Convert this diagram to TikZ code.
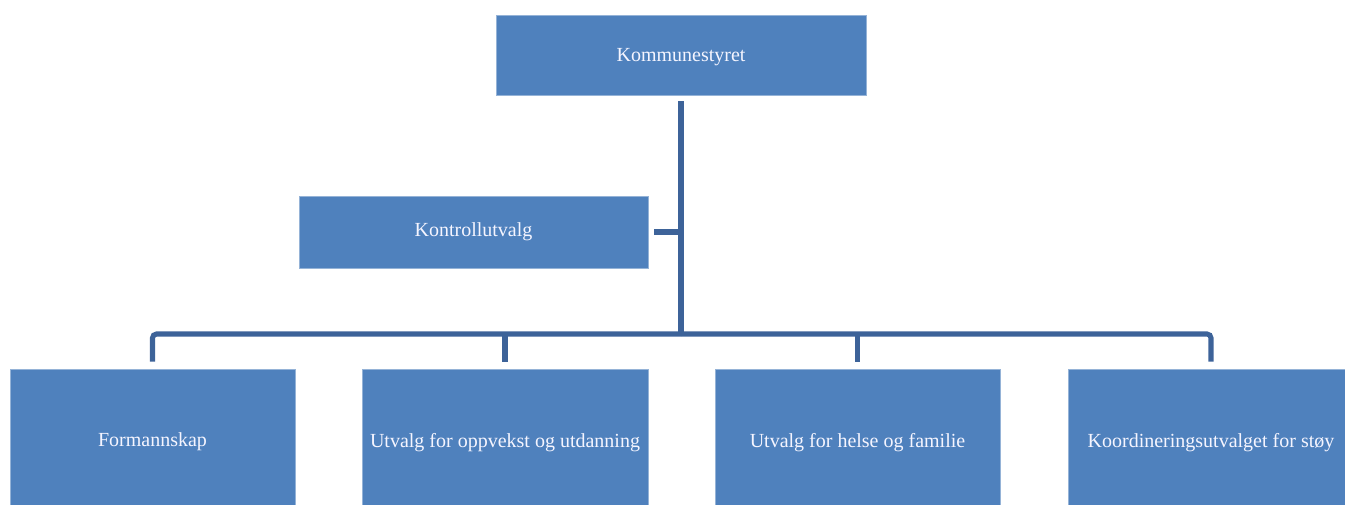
\documentclass[tikz,border=0pt]{standalone}
\usepackage{fontspec}
\setmainfont{Liberation Serif}
\definecolor{boxfill}{HTML}{4F81BD}
\definecolor{linecol}{HTML}{3D6399}
\definecolor{edgecol}{HTML}{95B3D7}
\begin{document}
\begin{tikzpicture}[x=0.75pt,y=-0.75pt,
  orgbox/.style={rectangle, fill=boxfill, draw=edgecol, line width=0.6pt, inner sep=0pt,
    text depth=0pt, text=white!96!blue, font=\fontsize{15}{17}\selectfont},
  conn/.style={draw=linecol, line width=3.8pt}]
\useasboundingbox (0,0) rectangle (1345,504);
\node[orgbox, minimum width=370*0.75pt, minimum height=80*0.75pt] (kom) at (681,55) {Kommunestyret};
\node[orgbox, minimum width=349*0.75pt, minimum height=72*0.75pt] (kon) at (473.5,232) {};
\node[text=white!96!blue, text depth=0pt, font=\fontsize{15}{17}\selectfont] (kontxt) at (473.5,230) {Kontrollutvalg};
\node[orgbox, minimum width=285*0.75pt, minimum height=142*0.75pt] (f1) at (152.5,440) {Formannskap};
\node[orgbox, minimum width=286*0.75pt, minimum height=142*0.75pt] (f2) at (505,440) {Utvalg for oppvekst og utdanning};
\node[orgbox, minimum width=285*0.75pt, minimum height=142*0.75pt] (f3) at (857.5,440) {Utvalg for helse og familie};
\node[orgbox, minimum width=286*0.75pt, minimum height=142*0.75pt] (f4) at (1211,440) {Koordineringsutvalget for støy};
\coordinate (bus) at (681,334);
\draw[conn, shorten <=4.5pt] (kom.south) -- (bus);
\draw[conn, shorten <=4.5pt] (kon.east) -- (kon.east -| bus);
\draw[conn, rounded corners=3pt, shorten >=5.25pt] (bus) -| (f1.north);
\draw[conn, rounded corners=3pt, shorten >=5.25pt] (bus) -| (f4.north);
\draw[conn, shorten >=5.25pt] (f2.north |- bus) -- (f2.north);
\draw[conn, shorten >=5.25pt] (f3.north |- bus) -- (f3.north);
\end{tikzpicture}
\end{document}
